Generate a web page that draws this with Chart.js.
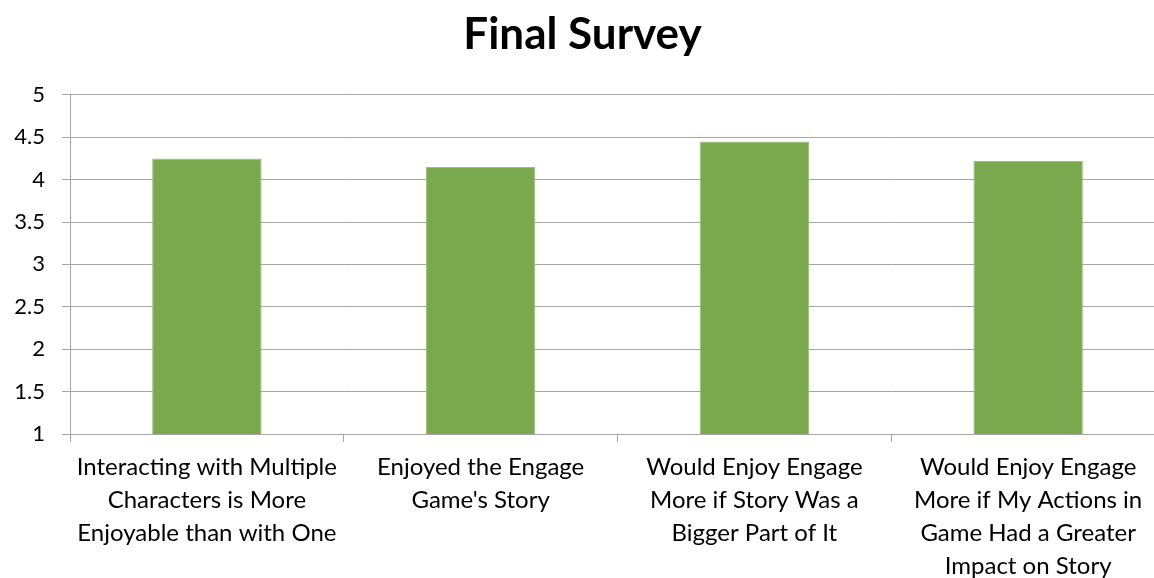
<!DOCTYPE html>
<html>
<head>
<meta charset="utf-8">
<script src="https://cdn.jsdelivr.net/npm/chart.js@4/dist/chart.umd.min.js"></script>
<style>
  html, body { margin: 0; padding: 0; overflow: hidden; background: #fff; }
  #wrap { width: 1165px; height: 578px; }
</style>
</head>
<body>
<div id="wrap"><canvas id="myChart"></canvas></div>
<script>
const categories = [
  ["Interacting with Multiple", "Characters is More", "Enjoyable than with One"],
  ["Enjoyed the Engage", "Game's Story"],
  ["Would Enjoy Engage", "More if Story Was a", "Bigger Part of It"],
  ["Would Enjoy Engage", "More if My Actions in", "Game Had a Greater", "Impact on Story"]
];
const scores = [4.25, 4.15, 4.45, 4.22];
const yTicks = [1, 1.5, 2, 2.5, 3, 3.5, 4, 4.5, 5];

const font = "Lato, 'Open Sans', sans-serif";

const ctx = document.querySelector("#myChart").getContext("2d");
new Chart(ctx, {
  type: "bar",
  data: {
    labels: categories,
    datasets: [{
      data: scores,
      backgroundColor: "#79a84f",
      borderColor: "#9cc17c",
      borderWidth: 1,
      barPercentage: 0.4,
      categoryPercentage: 1
    }]
  },
  options: {
    responsive: true,
    maintainAspectRatio: false,
    animation: false,
    plugins: {
      legend: { display: false },
      tooltip: { enabled: false },
      title: {
        display: true,
        text: "Final Survey",
        color: "#000",
        font: { family: font, size: 44, weight: "bold" },
        padding: { top: 8, bottom: 34 }
      }
    },
    scales: {
      x: {
        afterFit: (axis) => { axis.height = 144; },
        grid: {
          display: true,
          drawOnChartArea: false,
          offset: true,
          color: "#a6a6a6",
          tickLength: 8
        },
        border: { color: "#a6a6a6" },
        ticks: {
          color: "#000",
          font: { family: font, size: 24, lineHeight: 1.375 },
          maxRotation: 0,
          padding: 9
        }
      },
      y: {
        min: 1,
        max: 5,
        afterBuildTicks: (axis) => {
          axis.ticks = yTicks.map((v) => ({ value: v }));
        },
        afterFit: (axis) => { axis.width = 70; },
        grid: { color: "#a6a6a6", tickLength: 8 },
        border: { color: "#a6a6a6" },
        ticks: {
          color: "#000",
          font: { family: font, size: 22 },
          padding: 17,
          callback: (v) => String(v)
        }
      }
    }
  }
});
</script>
</body>
</html>
